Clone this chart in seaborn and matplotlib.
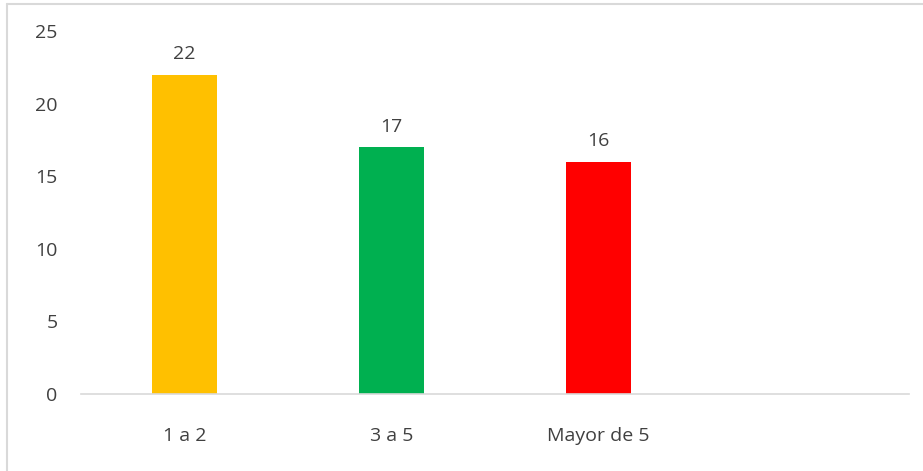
import numpy as np
import pandas as pd
import matplotlib
matplotlib.use("Agg")
import matplotlib.pyplot as plt
from matplotlib.lines import Line2D
import seaborn as sns

categories = ["1 a 2", "3 a 5", "Mayor de 5", ""]
values = [22, 17, 16, np.nan]
colors = ["#FFC000", "#00B050", "#FF0000", "#FFFFFF"]
yticks = [0, 5, 10, 15, 20, 25]

sns.set_theme(style="white")
plt.rcParams["font.family"] = ["Open Sans", "DejaVu Sans"]

df = pd.DataFrame({"cat": categories, "val": values})

fig = plt.figure(figsize=(9.23, 4.71), dpi=100)
ax = fig.add_axes([81 / 923, 1 - 394 / 471, 828 / 923, 363 / 471])

sns.barplot(data=df, x="cat", y="val", hue="cat", palette=colors,
            order=categories, legend=False, width=0.314, ax=ax,
            saturation=1, linewidth=0)

text_color = "#404040"
fs = 14
for i, v in enumerate(values):
    if not np.isnan(v):
        ax.text(i, v + 1.4, f"{v:g}", ha="center", va="center",
                fontsize=fs, color=text_color)

ax.set_ylim(0, 25)
ax.set_xlim(-0.5, len(categories) - 0.5)
ax.set_yticks(yticks)
ax.set_yticklabels([str(t) for t in yticks])
ax.set_xlabel("")
ax.set_ylabel("")
ax.tick_params(axis="both", length=0, labelsize=fs, colors=text_color)
ax.tick_params(axis="y", pad=17)
ax.tick_params(axis="x", pad=24)
for side in ["top", "right", "left"]:
    ax.spines[side].set_visible(False)
ax.spines["bottom"].set_color("#D9D9D9")
ax.spines["bottom"].set_linewidth(1.2)
ax.grid(False)

# light outer frame (top and left edges)
fig.add_artist(Line2D([7 / 923, 1.0], [1 - 4 / 471, 1 - 4 / 471],
                      transform=fig.transFigure, color="#D9D9D9", lw=1.5))
fig.add_artist(Line2D([7 / 923, 7 / 923], [0.0, 1 - 4 / 471],
                      transform=fig.transFigure, color="#D9D9D9", lw=1.5))

fig.savefig("out.png", dpi=100, facecolor="white")
